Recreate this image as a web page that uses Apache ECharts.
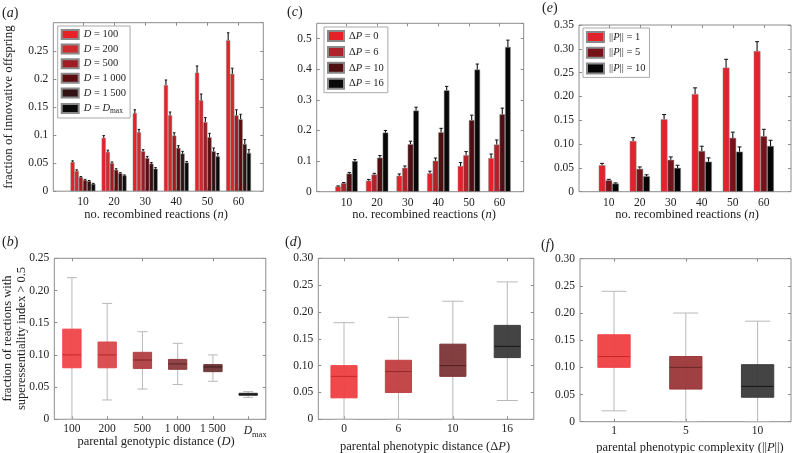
<!DOCTYPE html>
<html><head><meta charset="utf-8">
<script src="https://cdn.jsdelivr.net/npm/echarts@6/dist/echarts.min.js"></script>
<style>html,body{margin:0;padding:0;background:#fff}#c{width:795px;height:453px}</style>
</head><body><div id="c"></div>
<script>
// ---------------- data ----------------
const nCats  = ['10','20','30','40','50','60'];
const dCats  = ['100','200','500','1 000','1 500','Dmax'];
const dpCats = ['0','6','10','16'];
const pCats  = ['1','5','10'];

// (a) fraction of innovative offspring vs n, by genotypic distance D
const aNames = ['D = 100','D = 200','D = 500','D = 1 000','D = 1 500','D = Dmax'];
const aD100  = [0.052, 0.095, 0.139, 0.189, 0.211, 0.269];
const aD200  = [0.036, 0.070, 0.105, 0.135, 0.162, 0.209];
const aD500  = [0.025, 0.050, 0.071, 0.099, 0.123, 0.135];
const aD1000 = [0.020, 0.038, 0.059, 0.077, 0.096, 0.128];
const aD1500 = [0.018, 0.032, 0.049, 0.067, 0.071, 0.084];
const aDmax  = [0.013, 0.028, 0.040, 0.051, 0.062, 0.068];
const aE100  = [0.002, 0.004, 0.006, 0.009, 0.012, 0.013];
const aE200  = [0.002, 0.003, 0.005, 0.006, 0.011, 0.010];
const aE500  = [0.001, 0.002, 0.003, 0.005, 0.008, 0.010];
const aE1000 = [0.001, 0.002, 0.003, 0.004, 0.007, 0.009];
const aE1500 = [0.001, 0.001, 0.002, 0.004, 0.006, 0.008];
const aEmax  = [0.001, 0.001, 0.002, 0.002, 0.005, 0.006];

// (c) by phenotypic distance dP
const cNames = ['dP = 0','dP = 6','dP = 10','dP = 16'];
const cP0  = [0.017, 0.036, 0.052, 0.060, 0.084, 0.110];
const cP6  = [0.028, 0.056, 0.078, 0.101, 0.119, 0.154];
const cP10 = [0.059, 0.111, 0.155, 0.194, 0.234, 0.253];
const cP16 = [0.100, 0.193, 0.265, 0.331, 0.399, 0.473];
const cE0  = [0.002, 0.004, 0.006, 0.007, 0.011, 0.013];
const cE6  = [0.002, 0.004, 0.006, 0.009, 0.012, 0.015];
const cE10 = [0.004, 0.007, 0.010, 0.013, 0.016, 0.020];
const cE16 = [0.005, 0.007, 0.011, 0.013, 0.018, 0.022];

// (e) by phenotypic complexity ||P||
const eNames = ['P = 1','P = 5','P = 10'];
const eP1  = [0.0555, 0.1065, 0.152, 0.205, 0.2605, 0.2955];
const eP5  = [0.024, 0.048, 0.067, 0.0855, 0.113, 0.1165];
const eP10 = [0.017, 0.0325, 0.050, 0.063, 0.084, 0.096];
const eE1  = [0.004, 0.007, 0.010, 0.013, 0.0175, 0.0195];
const eE5  = [0.002, 0.004, 0.006, 0.010, 0.012, 0.0145];
const eE10 = [0.0015, 0.003, 0.0055, 0.008, 0.010, 0.012];

// (b) boxplots by D
const bMin = [0.000, 0.030, 0.047, 0.054, 0.059, 0.034];
const bQ1  = [0.080, 0.080, 0.079, 0.0776, 0.074, 0.0373];
const bMed = [0.100, 0.100, 0.092, 0.086, 0.0813, 0.039];
const bQ3  = [0.140, 0.120, 0.104, 0.093, 0.085, 0.0404];
const bMax = [0.220, 0.180, 0.136, 0.118, 0.100, 0.043];
// (d) boxplots by dP
const dMin = [0.000, 0.000, 0.000, 0.035];
const dQ1  = [0.040, 0.050, 0.080, 0.115];
const dMed = [0.080, 0.089, 0.100, 0.136];
const dQ3  = [0.100, 0.110, 0.140, 0.175];
const dMax = [0.180, 0.190, 0.220, 0.256];
// (f) boxplots by ||P||
const fMin = [0.020, 0.000, 0.000];
const fQ1  = [0.100, 0.060, 0.045];
const fMed = [0.120, 0.100, 0.065];
const fQ3  = [0.160, 0.120, 0.105];
const fMax = [0.240, 0.200, 0.185];

// ---------------- styling ----------------
const FONT = '"Liberation Serif","DejaVu Serif",serif';
const AX = '#8c8c8c';
const TXT = '#222';
const aColors = ['#e62128','#d02a2f','#a01c22','#5e0c10','#321214','#0a0a0a'];
const cColors = ['#e62128','#b0222a','#4e0e12','#080808'];
const eColors = ['#e3232b','#74141a','#050505'];
const bFill = ['#f04448','#d9474a','#b03e40','#8c3b3d','#6b3133','#2e2e2e'];
const bMedC = ['#c8282c','#b02a2d','#7e2426','#5e2224','#3e1a1b','#111111'];
const dFill = ['#ef3f42','#c13d40','#7c3436','#3a3a3a'];
const dMedC = ['#c8282c','#922a2c','#551f21','#151515'];
const fFill = ['#ef3f42','#9b3638','#3a3a3a'];
const fMedC = ['#c8282c','#6a2426','#151515'];

const TICKFS = 11.5;
const rich = {
  t:{fontFamily:FONT,fontSize:TICKFS,color:TXT},
  i:{fontFamily:FONT,fontSize:TICKFS,fontStyle:'italic',color:TXT},
  ip:{fontFamily:FONT,fontSize:TICKFS,fontStyle:'italic',color:TXT,padding:[0,0,0,14]},
  s:{fontFamily:FONT,fontSize:8.5,color:TXT,padding:[7,0,0,0]}
};
const lrich = {
  t:{fontFamily:FONT,fontSize:10.5,color:TXT,lineHeight:10},
  i:{fontFamily:FONT,fontSize:10.5,fontStyle:'italic',color:TXT,lineHeight:10},
  s:{fontFamily:FONT,fontSize:7.5,color:TXT,padding:[5,0,0,0],lineHeight:10}
};

const option = {animation:false, backgroundColor:'#fff', grid:[], xAxis:[], yAxis:[], series:[], legend:[], graphic:[]};

function addFrame(f, y, cats, catFmt) {
  const g0 = option.grid.length;
  option.grid.push({left:f.l, top:f.t, width:f.w, height:f.h, show:true, borderColor:AX, borderWidth:1,
    backgroundColor:'transparent', containLabel:false, outerBoundsMode:'none'});
  option.grid.push({left:f.il, top:f.t, width:f.iw, height:f.h, show:false, containLabel:false, outerBoundsMode:'none'});
  option.xAxis.push({gridIndex:g0, type:'value', show:false, min:0, max:1});
  const yb = {type:'value', min:y.min, max:y.max, interval:y.int, splitLine:{show:false}, axisLine:{show:false},
    axisTick:{show:true, inside:true, length:3, lineStyle:{color:AX}}};
  option.yAxis.push(Object.assign({}, yb, {gridIndex:g0, position:'left',
    axisLabel:{show:true, showMaxLabel:y.showMax, margin:5, color:TXT, fontFamily:FONT, fontSize:TICKFS,
      formatter: y.fmt}}));
  option.yAxis.push(Object.assign({}, yb, {gridIndex:g0, position:'right', axisLabel:{show:false}}));
  const xi = option.xAxis.length;
  option.xAxis.push({gridIndex:g0+1, type:'category', data:cats, position:'bottom', axisLine:{show:false},
    axisTick:{show:true, inside:true, length:3, alignWithLabel:true, lineStyle:{color:AX}},
    axisLabel:{show:true, interval:0, margin:f.lm, color:TXT, fontFamily:FONT, fontSize:TICKFS, formatter:catFmt, rich:rich},
    splitLine:{show:false}});
  option.xAxis.push({gridIndex:g0+1, type:'category', data:cats, position:'top', axisLine:{show:false},
    axisTick:{show:true, inside:true, length:3, alignWithLabel:true, lineStyle:{color:AX}},
    axisLabel:{show:false}, splitLine:{show:false}});
  const yi = option.yAxis.length;
  option.yAxis.push({gridIndex:g0+1, type:'value', min:y.min, max:y.max, show:false});
  return {xi, yi};
}

function errRender(n, idx, gap) {
  return function(params, api) {
    const x = api.value(0), v = api.value(1), e = api.value(2);
    const p0 = api.coord([x, v]);
    const p1 = api.coord([x, v + e]);
    const band = api.size([1, 0])[0];
    const gw = band * (1 - gap);
    const w = gw / n;
    const cx = p0[0] - gw / 2 + w * (idx + 0.5);
    const cap = Math.max(1.2, w * 0.3);
    return {type:'group', children:[
      {type:'line', shape:{x1:cx, y1:p0[1], x2:cx, y2:p1[1]}, style:{stroke:'#111', lineWidth:1.1}},
      {type:'line', shape:{x1:cx-cap, y1:p1[1], x2:cx+cap, y2:p1[1]}, style:{stroke:'#111', lineWidth:1}}
    ]};
  };
}

function addBars(ax, names, vals, errs, colors, gapPct) {
  const gap = gapPct / 100;
  names.forEach((nm, k) => {
    option.series.push({type:'bar', name:nm, xAxisIndex:ax.xi, yAxisIndex:ax.yi, data:vals[k],
      barCategoryGap:gapPct + '%', barGap:'0%', itemStyle:{color:colors[k], borderColor:'#8a8a8a', borderWidth:0.5}});
  });
  names.forEach((nm, k) => {
    option.series.push({type:'custom', name:nm + ' err', xAxisIndex:ax.xi, yAxisIndex:ax.yi, z:5,
      data: vals[k].map((v, i) => [i, v, errs[k][i]]), encode:{x:0, y:1},
      renderItem: errRender(names.length, k, gap)});
  });
}

function addBoxes(ax, mins, q1s, meds, q3s, maxs, fills, medc, frac, cap) {
  option.series.push({type:'custom', xAxisIndex:ax.xi, yAxisIndex:ax.yi,
    data: mins.map((m, i) => [i, m, q1s[i], meds[i], q3s[i], maxs[i]]),
    encode:{x:0, y:[1,2,3,4,5]},
    renderItem: function(params, api) {
      const i = api.value(0);
      const cx = api.coord([i, api.value(3)])[0];
      const yv = k => api.coord([i, api.value(k)])[1];
      const band = api.size([1, 0])[0];
      const bw = band * frac, hw = bw / 2;
      const yMin = yv(1), yQ1 = yv(2), yMed = yv(3), yQ3 = yv(4), yMax = yv(5);
      const wc = '#b8b8b8';
      const di = params.dataIndex;
      return {type:'group', children:[
        {type:'line', shape:{x1:cx, y1:yMin, x2:cx, y2:yMax}, style:{stroke:wc, lineWidth:1}},
        {type:'line', shape:{x1:cx-cap/2, y1:yMax, x2:cx+cap/2, y2:yMax}, style:{stroke:wc, lineWidth:1}},
        {type:'line', shape:{x1:cx-cap/2, y1:yMin, x2:cx+cap/2, y2:yMin}, style:{stroke:wc, lineWidth:1}},
        {type:'rect', shape:{x:cx-hw, y:yQ3, width:bw, height:Math.max(1, yQ1-yQ3)},
          style:{fill:fills[di], stroke:fills[di], lineWidth:1, opacity:0.95}},
        {type:'line', shape:{x1:cx-hw, y1:yMed, x2:cx+hw, y2:yMed}, style:{stroke:medc[di], lineWidth:1}}
      ]};
    }
  });
}

const fmt2 = v => v === 0 ? '0' : v.toFixed(2);
const fmtD = v => v === 0 ? '0' : String(+v.toFixed(2));

// ---------------- panels ----------------
const axA = addFrame({l:53.3, t:22.7, w:210, h:168.5, il:67.4, iw:186.7, lm:5},
  {min:0, max:0.3, int:0.05, fmt:fmtD, showMax:false}, nCats);
addBars(axA, aNames, [aD100,aD200,aD500,aD1000,aD1500,aDmax], [aE100,aE200,aE500,aE1000,aE1500,aEmax], aColors, 20);

const axC = addFrame({l:316.7, t:23.3, w:207, h:168.4, il:331.2, iw:183.6, lm:5},
  {min:0, max:0.55, int:0.1, fmt:fmtD, showMax:false}, nCats);
addBars(axC, cNames, [cP0,cP6,cP10,cP16], [cE0,cE6,cE10,cE16], cColors, 27);

const axE = addFrame({l:579, t:25, w:212, h:166.7, il:593.3, iw:186, lm:5},
  {min:0, max:0.35, int:0.05, fmt:fmt2, showMax:true}, nCats);
addBars(axE, eNames, [eP1,eP5,eP10], [eE1,eE5,eE10], eColors, 35);

const dCatFmt = v => v === 'Dmax' ? '{ip|D}{s|max}' : v;
const axB = addFrame({l:54.3, t:258.3, w:211.5, h:161, il:54.3, iw:211.5, lm:4},
  {min:0, max:0.25, int:0.05, fmt:fmt2, showMax:true}, dCats, dCatFmt);
addBoxes(axB, bMin, bQ1, bMed, bQ3, bMax, bFill, bMedC, 0.52, 10);

const axD = addFrame({l:318.3, t:258.3, w:215.5, h:161, il:316.8, iw:217.7, lm:4},
  {min:0, max:0.30, int:0.05, fmt:fmt2, showMax:true}, dpCats);
addBoxes(axD, dMin, dQ1, dMed, dQ3, dMax, dFill, dMedC, 0.48, 21);

const axF = addFrame({l:580, t:258.7, w:211, h:163, il:578.1, iw:215.4, lm:3},
  {min:0, max:0.30, int:0.05, fmt:fmt2, showMax:true}, pCats);
addBoxes(axF, fMin, fQ1, fMed, fQ3, fMax, fFill, fMedC, 0.45, 25);

// ---------------- legends ----------------
const legendLabel = {
  'D = 100':'{i|D}{t| = 100}', 'D = 200':'{i|D}{t| = 200}', 'D = 500':'{i|D}{t| = 500}',
  'D = 1 000':'{i|D}{t| = 1 000}', 'D = 1 500':'{i|D}{t| = 1 500}', 'D = Dmax':'{i|D}{t| = }{i|D}{s|max}',
  'dP = 0':'{t|Δ}{i|P}{t| = 0}', 'dP = 6':'{t|Δ}{i|P}{t| = 6}', 'dP = 10':'{t|Δ}{i|P}{t| = 10}', 'dP = 16':'{t|Δ}{i|P}{t| = 16}',
  'P = 1':'{t|||}{i|P}{t||| = 1}', 'P = 5':'{t|||}{i|P}{t||| = 5}', 'P = 10':'{t|||}{i|P}{t||| = 10}'
};
function legend(names, left, top, iw, ih, gap) {
  return {data:names, left:left, top:top, orient:'vertical', icon:'rect', itemWidth:iw, itemHeight:ih, itemGap:gap,
    selectedMode:false, backgroundColor:'#fff', borderColor:'#aaa', borderWidth:1, borderRadius:0, padding:[3,4,3,3],
    formatter: n => legendLabel[n], textStyle:{fontFamily:FONT, fontSize:10.5, color:TXT, rich:lrich}};
}
option.legend.push(legend(aNames, 57.7, 26, 17, 9, 3.6));
option.legend.push(legend(cNames, 324, 27, 16, 10, 3.9));
option.legend.push(legend(eNames, 583, 28, 17, 10, 3.7));

// ---------------- texts ----------------
function txt(x, y, text, rot, fs, align) {
  const r = {
    t:{fontFamily:FONT, fontSize:fs, fill:TXT, color:TXT},
    i:{fontFamily:FONT, fontSize:fs, fontStyle:'italic', fill:TXT, color:TXT}
  };
  return {type:'text', x:x, y:y, rotation:rot || 0, z:10,
    style:{text:text, rich:r, fontFamily:FONT, fontSize:fs, fill:TXT, align:align || 'center', verticalAlign:'middle'}};
}
const R = Math.PI / 2;
option.graphic = [
  txt(2, 13, '{t|(}{i|a}{t|)}', 0, 14, 'left'),
  txt(287, 12, '{t|(}{i|c}{t|)}', 0, 14, 'left'),
  txt(542, 8, '{t|(}{i|e}{t|)}', 0, 14, 'left'),
  txt(2, 242, '{t|(}{i|b}{t|)}', 0, 14, 'left'),
  txt(285, 242, '{t|(}{i|d}{t|)}', 0, 14, 'left'),
  txt(541, 245, '{t|(}{i|f}{t|)}', 0, 14, 'left'),
  txt(156, 215, '{t|no. recombined reactions (}{i|n}{t|)}', 0, 12.5),
  txt(424, 214.5, '{t|no. recombined reactions (}{i|n}{t|)}', 0, 12.5),
  txt(687, 215, '{t|no. recombined reactions (}{i|n}{t|)}', 0, 12.5),
  txt(156, 442, '{t|parental genotypic distance (}{i|D}{t|)}', 0, 12.5),
  txt(425, 446.5, '{t|parental phenotypic distance (Δ}{i|P}{t|)}', 0, 12.5),
  txt(690, 448, '{t|parental phenotypic complexity (||}{i|P}{t|||)}', 0, 12.5),
  txt(9, 107, '{t|fraction of innovative offspring}', R, 13),
  txt(8, 338.5, '{t|fraction of reactions with}', R, 12.5),
  txt(21.5, 338.5, '{t|superessentiality index > 0.5}', R, 12.5)
];

const chart = echarts.init(document.getElementById('c'), null, {renderer:'canvas'});
chart.setOption(option);
</script>
</body></html>
